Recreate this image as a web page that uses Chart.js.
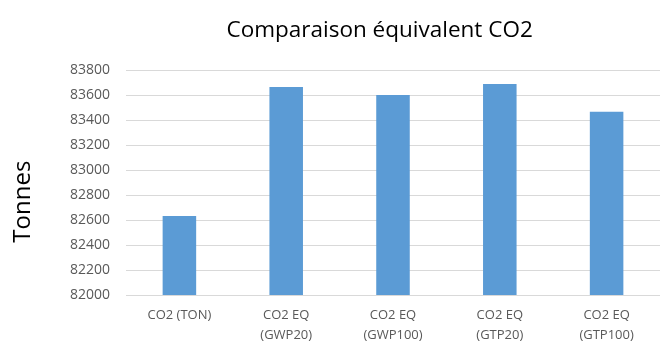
<!DOCTYPE html>
<html>
<head>
<meta charset="utf-8">
<script src="https://cdn.jsdelivr.net/npm/chart.js@4/dist/chart.umd.min.js"></script>
<style>
  html, body { margin: 0; padding: 0; background: #ffffff; }
  #wrap { width: 668px; height: 349px; position: relative; }
</style>
</head>
<body>
<div id="wrap"><canvas id="c" width="668" height="349"></canvas></div>
<script>
// Categories (two-line labels) and emission totals in tonnes
const categories = [
  ['CO2 (TON)'],
  ['CO2 EQ', '(GWP20)'],
  ['CO2 EQ', '(GWP100)'],
  ['CO2 EQ', '(GTP20)'],
  ['CO2 EQ', '(GTP100)']
];
const tonnes = [82632, 83664, 83600, 83688, 83466];
const yTicks = [82000, 82200, 82400, 82600, 82800, 83000, 83200, 83400, 83600, 83800];
const chartTitle = 'Comparaison équivalent CO2';
const yTitle = 'Tonnes';

const FONT = "'Open Sans', 'Noto Sans', sans-serif";

// Chart title and rotated axis title, placed with their own offsets
const titlesPlugin = {
  id: 'titles',
  afterDraw(chart) {
    const ctx = chart.ctx;
    const area = chart.chartArea;
    ctx.save();
    ctx.fillStyle = '#000000';
    ctx.textAlign = 'center';
    ctx.textBaseline = 'middle';
    ctx.font = `22.5px ${FONT}`;
    ctx.fillText(chartTitle, area.left + (area.right - area.left) * 0.475, 31);
    ctx.translate(23, area.top + (area.bottom - area.top) * 0.585);
    ctx.rotate(-Math.PI / 2);
    ctx.font = `24px ${FONT}`;
    ctx.fillText(yTitle, 0, 0);
    ctx.restore();
  }
};

new Chart(document.getElementById('c'), {
  type: 'bar',
  data: {
    labels: categories,
    datasets: [{
      data: tonnes,
      backgroundColor: '#5B9BD5',
      borderWidth: 0,
      barPercentage: 1,
      categoryPercentage: 0.314
    }]
  },
  plugins: [titlesPlugin],
  options: {
    responsive: false,
    animation: false,
    devicePixelRatio: 1,
    layout: { padding: { left: 0, right: 8, top: 70, bottom: 0 } },
    plugins: {
      legend: { display: false },
      tooltip: { enabled: false },
      title: { display: false }
    },
    scales: {
      x: {
        grid: { display: false },
        border: { display: false },
        ticks: {
          color: '#595959',
          font: { family: FONT, size: 13, lineHeight: 1.5 },
          padding: 3,
          maxRotation: 0,
          autoSkip: false
        },
        afterFit: (s) => { s.height = 54; }
      },
      y: {
        min: yTicks[0],
        max: yTicks[yTicks.length - 1],
        afterBuildTicks: (s) => { s.ticks = yTicks.map(v => ({ value: v })); },
        grid: { color: '#d9d9d9', lineWidth: 1, drawTicks: false },
        border: { display: false },
        ticks: {
          color: '#595959',
          font: { family: FONT, size: 14 },
          padding: 16,
          callback: (v) => String(v)
        },
        afterFit: (s) => { s.width = 126; }
      }
    }
  }
});
</script>
</body>
</html>
